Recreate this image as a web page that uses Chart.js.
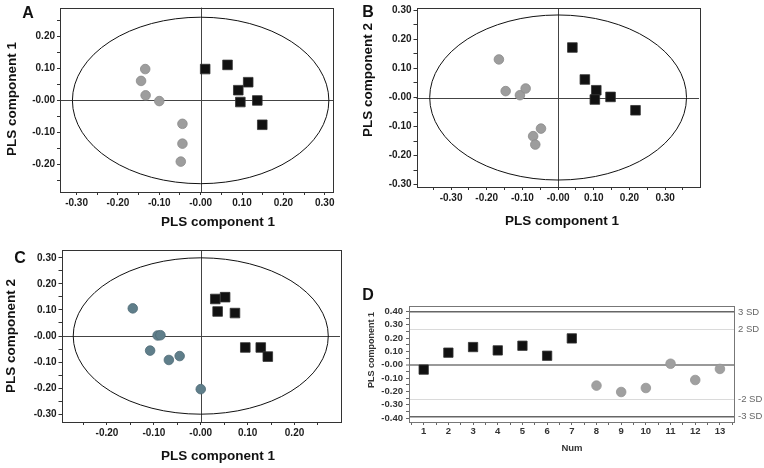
<!DOCTYPE html>
<html lang="en">
<head>
<meta charset="UTF-8" />
<title>PLS score plots</title>
<script src="https://cdn.jsdelivr.net/npm/chart.js@4"></script>
<style>
  body { margin: 0; background: #fff; }
  #wrap { position: relative; width: 764px; height: 468px; }
  #wrap canvas { position: absolute; left: 0; top: 0; }
</style>
</head>
<body>
<div id="wrap">
  <canvas id="chartA" width="764" height="468"></canvas>
  <canvas id="chartB" width="764" height="468"></canvas>
  <canvas id="chartC" width="764" height="468"></canvas>
  <canvas id="chartD" width="764" height="468"></canvas>
</div>
<script>
// panel A
const aCircleX = [-0.134, -0.144, -0.133, -0.100, -0.044, -0.044, -0.048];
const aCircleY = [0.098, 0.061, 0.016, -0.002, -0.073, -0.135, -0.191];
const aSquareX = [0.011, 0.065, 0.115, 0.091, 0.096, 0.137, 0.149];
const aSquareY = [0.098, 0.111, 0.057, 0.032, -0.005, 0.000, -0.076];
// panel B
const bCircleX = [-0.166, -0.147, -0.107, -0.091, -0.048, -0.070, -0.064];
const bCircleY = [0.131, 0.022, 0.008, 0.031, -0.107, -0.133, -0.162];
const bSquareX = [0.040, 0.075, 0.107, 0.103, 0.147, 0.217];
const bSquareY = [0.172, 0.062, 0.025, -0.007, 0.002, -0.044];
// panel C
const cCircleX = [-0.145, -0.092, -0.086, -0.108, -0.068, -0.045, 0.000];
const cCircleY = [0.106, 0.002, 0.003, -0.056, -0.092, -0.077, -0.204];
const cSquareX = [0.031, 0.052, 0.036, 0.073, 0.095, 0.128, 0.143];
const cSquareY = [0.142, 0.149, 0.094, 0.088, -0.044, -0.044, -0.079];
// panel D
const dSquareNum = [1, 2, 3, 4, 5, 6, 7];
const dSquareVal = [-0.037, 0.090, 0.132, 0.107, 0.142, 0.067, 0.197];
const dCircleNum = [8, 9, 10, 11, 12, 13];
const dCircleVal = [-0.157, -0.205, -0.175, 0.007, -0.115, -0.032];
const dSdValues = [0.395, 0.263, -0.263, -0.39];
const dSdLabels = ['3 SD', '2 SD', '-2 SD', '-3 SD'];
// 95% ellipse half-axes (x, y)
const aEllipse = [0.31, 0.26];
const bEllipse = [0.36, 0.284];
const cEllipse = [0.272, 0.30];

const FONT = '"Liberation Sans", Arial, Helvetica, sans-serif';
Chart.defaults.font.family = FONT;
Chart.defaults.animation = false;
Chart.defaults.events = [];

const zip = (xs, ys) => xs.map((x, i) => ({ x: x, y: ys[i] }));
const isMajor = v => Math.abs(v * 10 - Math.round(v * 10)) < 1e-6;
const fmt = v => isMajor(v) ? (Math.abs(v) < 1e-9 ? '-0.00' : v.toFixed(2)) : '';

const framePlugin = {
  id: 'frame',
  beforeDatasetsDraw(chart, args, opts) {
    const { ctx, chartArea: a, scales: { x, y } } = chart;
    ctx.save();
    ctx.lineWidth = 1;
    if (opts.cross) {
      ctx.strokeStyle = opts.crossColor;
      const x0 = Math.round(x.getPixelForValue(0)) + 0.5;
      const y0 = Math.round(y.getPixelForValue(0)) + 0.5;
      ctx.beginPath();
      ctx.moveTo(x0, a.top); ctx.lineTo(x0, a.bottom);
      ctx.moveTo(a.left, y0); ctx.lineTo(a.right, y0);
      ctx.stroke();
    }
    if (opts.ellipse) {
      const cx = x.getPixelForValue(0), cy = y.getPixelForValue(0);
      const rx = x.getPixelForValue(opts.ellipse[0]) - cx;
      const ry = cy - y.getPixelForValue(opts.ellipse[1]);
      ctx.strokeStyle = '#111';
      ctx.beginPath();
      ctx.ellipse(cx, cy, rx, ry, 0, 0, Math.PI * 2);
      ctx.stroke();
    }
    ctx.strokeStyle = opts.boxColor;
    ctx.strokeRect(Math.round(a.left) + 0.5, Math.round(a.top) + 0.5,
      Math.round(a.right - a.left), Math.round(a.bottom - a.top));
    ctx.restore();
  },
  afterDraw(chart, args, opts) {
    const ctx = chart.ctx;
    (opts.texts || []).forEach(t => {
      ctx.save();
      ctx.font = 'bold ' + t.size + 'px ' + FONT;
      ctx.fillStyle = t.color || '#111';
      ctx.textAlign = 'center';
      ctx.textBaseline = 'middle';
      ctx.translate(t.x, t.y);
      if (t.rot) ctx.rotate(-Math.PI / 2);
      ctx.fillText(t.t, 0, 0);
      ctx.restore();
    });
  }
};

function pad(area, yw, xh, rw) {
  return { left: area.l - yw, right: 764 - area.r - (rw || 0), top: area.t, bottom: 468 - area.b - xh };
}

function scorePanel(id, area, xr, yr, circles, squares, ell, circleColor, circleEdge, texts) {
  const tickFont = { family: FONT, size: 10, weight: 'bold' };
  const axis = (r, isY) => ({
    type: 'linear', min: r[0], max: r[1],
    border: { display: false },
    grid: { drawOnChartArea: false, drawTicks: true, tickLength: 3, color: '#333' },
    ticks: { stepSize: 0.05, includeBounds: false, autoSkip: false, maxRotation: 0,
      font: tickFont, color: '#1a1a1a', padding: 2, callback: fmt },
    afterFit: s => {
      if (isY) { s.width = 40; s.paddingTop = 0; s.paddingBottom = 0; }
      else { s.height = 30; s.paddingLeft = 0; s.paddingRight = 0; }
    }
  });
  return new Chart(document.getElementById(id), {
    type: 'scatter',
    data: {
      datasets: [
        { data: circles, pointStyle: 'circle', pointRadius: 4.8,
          backgroundColor: circleColor, borderColor: circleEdge, borderWidth: 0.8 },
        { data: squares, pointStyle: 'rect', pointRadius: 6.8,
          backgroundColor: '#111', borderColor: '#333', borderWidth: 0.8 }
      ]
    },
    options: {
      responsive: false,
      layout: { padding: pad(area, 40, 30) },
      scales: { x: axis(xr, false), y: axis(yr, true) },
      plugins: {
        legend: { display: false }, tooltip: { enabled: false },
        frame: { cross: true, crossColor: '#444', ellipse: ell, boxColor: '#333', texts: texts }
      }
    },
    plugins: [framePlugin]
  });
}

scorePanel('chartA', { l: 60, r: 333, t: 5, b: 192 }, [-0.34, 0.32], [-0.286, 0.29],
  zip(aCircleX, aCircleY), zip(aSquareX, aSquareY), aEllipse, '#9d9d9d', '#8a8a8a', [
    { t: 'A', x: 28, y: 14, size: 16 },
    { t: 'PLS component 1', x: 12.5, y: 99, size: 13.5, rot: true },
    { t: 'PLS component 1', x: 218, y: 222, size: 13.5 }
  ]);

scorePanel('chartB', { l: 416.5, r: 699, t: 8, b: 187 }, [-0.397, 0.395], [-0.308, 0.308],
  zip(bCircleX, bCircleY), zip(bSquareX, bSquareY), bEllipse, '#9d9d9d', '#8a8a8a', [
    { t: 'B', x: 368, y: 13, size: 16 },
    { t: 'PLS component 2', x: 368, y: 80, size: 13.5, rot: true },
    { t: 'PLS component 1', x: 562, y: 221, size: 13.5 }
  ]);

scorePanel('chartC', { l: 61.5, r: 340, t: 250, b: 422 }, [-0.297, 0.297], [-0.33, 0.33],
  zip(cCircleX, cCircleY), zip(cSquareX, cSquareY), cEllipse, '#5f7e8a', '#4f6b76', [
    { t: 'C', x: 20, y: 259, size: 16 },
    { t: 'PLS component 2', x: 11, y: 336, size: 13.5, rot: true },
    { t: 'PLS component 1', x: 218, y: 456, size: 13.5 }
  ]);

// panel D: scores by sample number with SD limits on a right-hand axis
const dArea = { l: 409, r: 734, t: 306, b: 422 };
const dTickFont = { family: FONT, size: 9.5, weight: 'bold' };
new Chart(document.getElementById('chartD'), {
  type: 'scatter',
  data: {
    datasets: [
      { data: zip(dSquareNum, dSquareVal), pointStyle: 'rect', pointRadius: 6.6,
        backgroundColor: '#111', borderColor: '#333', borderWidth: 0.8 },
      { data: zip(dCircleNum, dCircleVal), pointStyle: 'circle', pointRadius: 4.8,
        backgroundColor: '#a0a0a0', borderColor: '#959595', borderWidth: 0.8 }
    ]
  },
  options: {
    responsive: false,
    layout: { padding: pad(dArea, 40, 30, 30) },
    scales: {
      x: {
        type: 'linear', min: 0.405, max: 13.57,
        border: { display: false },
        grid: { drawOnChartArea: false, tickLength: 3, color: '#666' },
        ticks: { stepSize: 0.5, includeBounds: false, autoSkip: false, maxRotation: 0,
          font: dTickFont, color: '#333', padding: 1,
          callback: v => Number.isInteger(v) ? String(v) : '' },
        afterFit: s => { s.height = 30; s.paddingLeft = 0; s.paddingRight = 0; }
      },
      y: {
        type: 'linear', min: -0.43, max: 0.44,
        border: { display: false },
        grid: {
          drawOnChartArea: true, tickLength: 3, tickColor: '#666', tickWidth: 1,
          color: c => (c.tick && c.tick.value === 0) ? '#999' : 'rgba(0,0,0,0)',
          lineWidth: c => (c.tick && c.tick.value === 0) ? 2 : 1
        },
        ticks: { stepSize: 0.05, includeBounds: false, autoSkip: false,
          font: dTickFont, color: '#333', padding: 3, callback: fmt },
        afterFit: s => { s.width = 40; s.paddingTop = 0; s.paddingBottom = 0; }
      },
      y2: {
        type: 'linear', position: 'right', min: -0.43, max: 0.44,
        border: { display: false },
        afterBuildTicks: s => { s.ticks = dSdValues.map(v => ({ value: v })); },
        grid: {
          drawOnChartArea: true, drawTicks: false,
          color: c => (c.tick && Math.abs(c.tick.value) > 0.3) ? '#666' : '#dadada',
          lineWidth: c => (c.tick && Math.abs(c.tick.value) > 0.3) ? 1.5 : 1
        },
        ticks: { font: { family: FONT, size: 9.5 }, color: '#666', padding: 4,
          callback: (v, i) => dSdLabels[i] },
        afterFit: s => { s.width = 30; s.paddingTop = 0; s.paddingBottom = 0; }
      }
    },
    plugins: {
      legend: { display: false }, tooltip: { enabled: false },
      frame: { cross: false, boxColor: '#777', texts: [
        { t: 'D', x: 368, y: 296, size: 16 },
        { t: 'PLS component 1', x: 372, y: 350, size: 9, rot: true, color: '#333' },
        { t: 'Num', x: 572, y: 448, size: 9.5, color: '#333' }
      ] }
    }
  },
  plugins: [framePlugin]
});
</script>
</body>
</html>
